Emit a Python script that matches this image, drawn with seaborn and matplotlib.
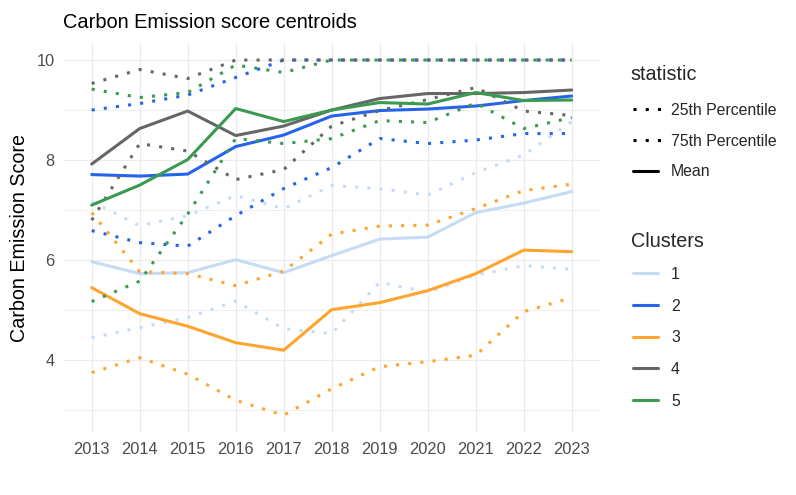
import matplotlib
matplotlib.use("Agg")
import matplotlib.pyplot as plt
import seaborn as sns
import pandas as pd
from matplotlib.lines import Line2D

years = list(range(2013, 2024))
clusters = ["1", "2", "3", "4", "5"]
statistics = ["25th Percentile", "75th Percentile", "Mean"]

c1_mean = [5.97, 5.73, 5.75, 6.01, 5.75, 6.09, 6.42, 6.46, 6.95, 7.14, 7.37]
c1_p25 = [4.45, 4.65, 4.85, 5.18, 4.63, 4.53, 5.56, 5.36, 5.70, 5.89, 5.82]
c1_p75 = [7.17, 6.69, 6.89, 7.29, 7.03, 7.49, 7.43, 7.30, 7.75, 8.10, 8.77]

c2_mean = [7.71, 7.68, 7.72, 8.27, 8.50, 8.88, 8.99, 9.02, 9.08, 9.19, 9.28]
c2_p25 = [6.59, 6.35, 6.28, 6.89, 7.43, 7.85, 8.43, 8.33, 8.40, 8.53, 8.53]
c2_p75 = [9.00, 9.13, 9.30, 9.65, 10.0, 10.0, 10.0, 10.0, 10.0, 10.0, 10.0]

c3_mean = [5.45, 4.93, 4.68, 4.35, 4.20, 5.01, 5.15, 5.39, 5.73, 6.20, 6.17]
c3_p25 = [3.75, 4.05, 3.72, 3.20, 2.90, 3.43, 3.87, 3.97, 4.10, 4.97, 5.25]
c3_p75 = [6.95, 5.77, 5.73, 5.49, 5.78, 6.52, 6.68, 6.70, 7.03, 7.39, 7.52]

c4_mean = [7.92, 8.63, 8.98, 8.49, 8.68, 9.00, 9.23, 9.33, 9.33, 9.35, 9.40]
c4_p25 = [6.80, 8.33, 8.18, 7.61, 7.81, 8.68, 8.99, 9.21, 9.45, 8.98, 8.89]
c4_p75 = [9.53, 9.81, 9.63, 10.0, 10.0, 10.0, 10.0, 10.0, 10.0, 10.0, 10.0]

c5_mean = [7.10, 7.50, 8.01, 9.03, 8.77, 9.00, 9.15, 9.12, 9.35, 9.19, 9.20]
c5_p25 = [5.17, 5.58, 6.92, 8.43, 8.33, 8.43, 8.79, 8.75, 9.14, 8.63, 8.85]
c5_p75 = [9.42, 9.25, 9.35, 9.90, 9.75, 10.0, 10.0, 10.0, 10.0, 10.0, 10.0]

series = {
    "1": (c1_p25, c1_p75, c1_mean),
    "2": (c2_p25, c2_p75, c2_mean),
    "3": (c3_p25, c3_p75, c3_mean),
    "4": (c4_p25, c4_p75, c4_mean),
    "5": (c5_p25, c5_p75, c5_mean),
}

colors = ["#C6DCF6", "#2563EB", "#FFA42F", "#666666", "#3A9A50"]
palette = dict(zip(clusters, colors))

rows = []
for cl in clusters:
    for stat, vals in zip(statistics, series[cl]):
        for yr, v in zip(years, vals):
            rows.append({"year": yr, "value": v, "cluster": cl, "statistic": stat})
df = pd.DataFrame(rows)

sns.set_style("white")
plt.rcParams["font.family"] = ["Liberation Sans", "DejaVu Sans"]

W, H = 796, 495
fig = plt.figure(figsize=(W / 100, H / 100), dpi=100)
left, right, top, bottom = 62.9, 600.5, 43.3, 432.5
ax = fig.add_axes([left / W, 1 - bottom / H, (right - left) / W, (bottom - top) / H])

LW = 2.2
dashes = {"25th Percentile": (1, 3), "75th Percentile": (1, 3), "Mean": ""}
sns.lineplot(data=df, x="year", y="value", hue="cluster", style="statistic",
             palette=palette, dashes=dashes, linewidth=LW, legend=False,
             estimator=None, ax=ax, hue_order=clusters, style_order=statistics)

ax.set_xlim(2012.4, 2023.6)
ax.set_ylim(2.555, 10.334)
ax.set_xticks(years)
ax.set_xticklabels([str(y) for y in years])
ax.set_yticks([4, 6, 8, 10])
ax.set_yticks([3, 5, 7, 9], minor=True)
ax.grid(True, which="major", color="#EBEBEB", linewidth=0.9)
ax.grid(True, which="minor", axis="y", color="#EBEBEB", linewidth=0.6)
ax.set_axisbelow(True)
for s in ax.spines.values():
    s.set_visible(False)
ax.tick_params(axis="both", which="both", length=0, labelsize=11.8, labelcolor="#4D4D4D")
ax.tick_params(axis="x", pad=7)
ax.tick_params(axis="y", pad=6)
ax.set_xlabel("")
ax.set_ylabel("")


def fx(x):
    return x / W


def fy(y):
    return 1 - y / H


fig.text(fx(63), fy(28), "Carbon Emission score centroids", fontsize=14.4,
         ha="left", va="baseline", color="black")
fig.text(fx(20), fy(238.4), "Carbon Emission Score", fontsize=14.2, rotation=90,
         ha="center", va="center", color="black")

# legend: statistic
fig.text(fx(630.7), fy(80), "statistic", fontsize=14.2, ha="left", va="baseline")
stat_keys = [("25th Percentile", 109.3, (1, 3)), ("75th Percentile", 140.0, (1, 3)),
             ("Mean", 170.7, None)]
for lab, yc, d in stat_keys:
    ln = Line2D([fx(632.7), fx(660.5 if d else 658.3)], [fy(yc), fy(yc)],
                transform=fig.transFigure, color="black", linewidth=LW)
    if d:
        ln.set_dashes(d)
    fig.add_artist(ln)
    fig.text(fx(671), fy(yc + 5.7), lab, fontsize=11.4, ha="left", va="baseline")

# legend: Clusters
fig.text(fx(630.7), fy(246.7), "Clusters", fontsize=14.2, ha="left", va="baseline")
for cl, yc in zip(clusters, [273.3, 305.0, 336.7, 368.3, 400.0]):
    ln = Line2D([fx(632.7), fx(658.3)], [fy(yc), fy(yc)], transform=fig.transFigure,
                color=palette[cl], linewidth=LW)
    fig.add_artist(ln)
    fig.text(fx(671), fy(yc + 5.7), cl, fontsize=11.4, ha="left", va="baseline")

fig.savefig("out.png", dpi=100, facecolor="white")
